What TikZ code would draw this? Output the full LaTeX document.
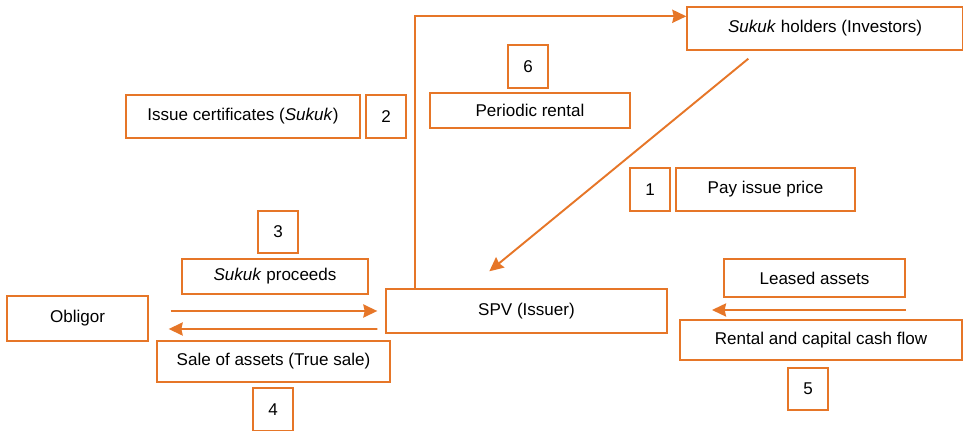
\documentclass[tikz,border=0pt]{standalone}
\usepackage{fontspec}
\setmainfont{Liberation Sans}
\usetikzlibrary{arrows.meta,calc}
\definecolor{sorange}{RGB}{230,118,40}
\tikzset{
    box/.style =    {rectangle,
                    fill=white,
                    draw=sorange,
                    text=black,
                    line width=0.8pt,
                    inner sep=0pt,
                    minimum height=0.86cm,
                    font=\fontsize{9.7}{11}\selectfont},
    numbox/.style = {box,
                    minimum width=0.8cm},
    flow/.style =   {draw=sorange,
                    line width=1.1pt,
                    -{Stealth[length=8pt,width=7.5pt,inset=0.8pt]}},
    -}

\begin{document}
\begin{tikzpicture}[x=0.02cm,y=-0.02cm]
                \useasboundingbox (0,0) rectangle (963,431);
                % boxes
                \node[box,minimum width=5.52cm]       (inv)    at (825,28.5)  {\textit{Sukuk} holders (Investors)};
                \node[numbox]                         (six)    at (528,66.5)  {6};
                \node[box,minimum width=4cm,minimum height=0.7cm]    (rent)   at (530,110.5) {Periodic rental};
                \node[box,minimum width=4.68cm]       (issue)  at (243,116.5) {Issue certificates (\textit{Sukuk})};
                \node[numbox]                         (two)    at (386,116.5) {2};
                \node[numbox]                         (one)    at (650,189.5) {1};
                \node[box,minimum width=3.58cm]       (pay)    at (765.5,189.5) {Pay issue price};
                \node[numbox,minimum height=0.84cm]   (three)  at (278,232)   {3};
                \node[box,minimum width=3.72cm,minimum height=0.7cm] (proc)   at (275,276.5) {\textit{Sukuk} proceeds};
                \node[box,minimum width=3.62cm,minimum height=0.76cm] (leased) at (814.5,278) {Leased assets};
                \node[box,minimum width=2.82cm,minimum height=0.9cm]  (obl)    at (77.5,318.5) {Obligor};
                \node[box,minimum width=5.62cm,minimum height=0.88cm] (spv)    at (526.5,311) {SPV (Issuer)};
                \node[box,minimum width=5.64cm,minimum height=0.8cm]  (cash)   at (821,340)   {Rental and capital cash flow};
                \node[box,minimum width=4.66cm,minimum height=0.82cm] (sale)   at (273.5,361.5) {Sale of assets (True sale)};
                \node[numbox]                         (four)   at (273,409.5) {4};
                \node[numbox,minimum height=0.84cm]   (five)   at (808,389)   {5};
                % arrow ends
                \coordinate (up)    at ($(spv.north west)+(30,0)$);
                \coordinate (top)   at ($(inv.north west)+(0,10)$);
                \coordinate (dfrom) at ($(inv.south west)+(62,8)$);
                \coordinate (dto)   at ($(spv.north west)+(104,-17)$);
                \coordinate (pfrom) at ($(obl.east)+(22,-7.5)$);
                \coordinate (pto)   at ($(spv.west)+(-8,0)$);
                \coordinate (sfrom) at ($(spv.west)+(-8,18)$);
                \coordinate (sto)   at ($(obl.east)+(20,10.5)$);
                \coordinate (lfrom) at (906,310);
                \coordinate (lto)   at (712,310);
                % arrows
                \draw[flow]  (up) |- (top);
                \draw[flow]  (dfrom) -- (dto);
                \draw[flow]  (pfrom) -- (pto);
                \draw[flow]  (sfrom) -- (sto);
                \draw[flow]  (lfrom) -- (lto);
\end{tikzpicture}
\end{document}
